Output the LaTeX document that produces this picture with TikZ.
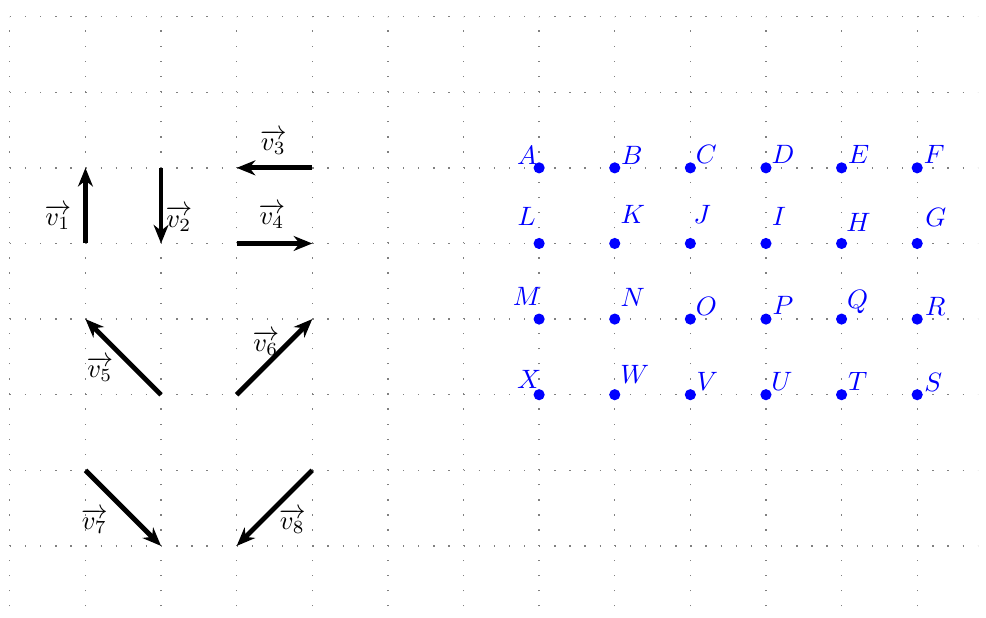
\documentclass[tikz,border=0pt]{standalone}
\usepackage{amsmath}
\usetikzlibrary{arrows.meta}

\tikzset{
  gridline/.style={gray,line width=0.5pt,dash pattern=on 0.5pt off 5.19055pt},
  vec/.style={-{Stealth[length=7pt,width=5.6pt,inset=2.2pt]},line width=1.8pt},
  pt/.style={circle,fill=blue,inner sep=0pt,minimum size=4.2pt},
  ptlabel/.style={text=blue,inner sep=0pt}
}

\begin{document}
\begin{tikzpicture}[line join=round]
  \useasboundingbox (-0.13,-0.95) rectangle (12.91,7.22);
  \draw[gridline] (0,-0.8) grid (12.8,7);
  % vectors
  \draw[vec] (1,4) -- (1,5);
  \draw[vec] (2,5) -- (2,4);
  \draw[vec] (4,5) -- (3,5);
  \draw[vec] (3,4) -- (4,4);
  \draw[vec] (2,2) -- (1,3);
  \draw[vec] (3,2) -- (4,3);
  \draw[vec] (1,1) -- (2,0);
  \draw[vec] (4,1) -- (3,0);
  \node (lv1) at (0.635,4.35) {$\overrightarrow{v_1}$};
  \node (lv2) at (2.235,4.33) {$\overrightarrow{v_2}$};
  \node (lv3) at (3.485,5.34) {$\overrightarrow{v_3}$};
  \node (lv4) at (3.466,4.36) {$\overrightarrow{v_4}$};
  \node (lv5) at (1.19,2.335) {$\overrightarrow{v_5}$};
  \node (lv6) at (3.386,2.68) {$\overrightarrow{v_6}$};
  \node (lv7) at (1.118,0.33) {$\overrightarrow{v_7}$};
  \node (lv8) at (3.737,0.33) {$\overrightarrow{v_8}$};
  % points
  \foreach \n/\x/\y/\dx/\dy in {
      A/7/5/-0.16/0.17, B/8/5/0.225/0.17, C/9/5/0.212/0.172,
      D/10/5/0.225/0.172, E/11/5/0.225/0.172, F/12/5/0.225/0.172,
      L/7/4/-0.165/0.357, K/8/4/0.238/0.384, J/9/4/0.159/0.384,
      I/10/4/0.172/0.352, H/11/4/0.225/0.278, G/12/4/0.245/0.339,
      M/7/3/-0.159/0.304, N/8/3/0.238/0.291, O/9/3/0.212/0.172,
      P/10/3/0.225/0.179, Q/11/3/0.212/0.225, R/12/3/0.238/0.172,
      X/7/2/-0.132/0.198, W/8/2/0.265/0.265, V/9/2/0.225/0.172,
      U/10/2/0.212/0.172, T/11/2/0.212/0.172, S/12/2/0.212/0.159} {
    \node[pt] (\n) at (\x,\y) {};
    \node[ptlabel] (l\n) at ([shift={(\dx,\dy)}]\n) {$\n$};
  }
\end{tikzpicture}
\end{document}
